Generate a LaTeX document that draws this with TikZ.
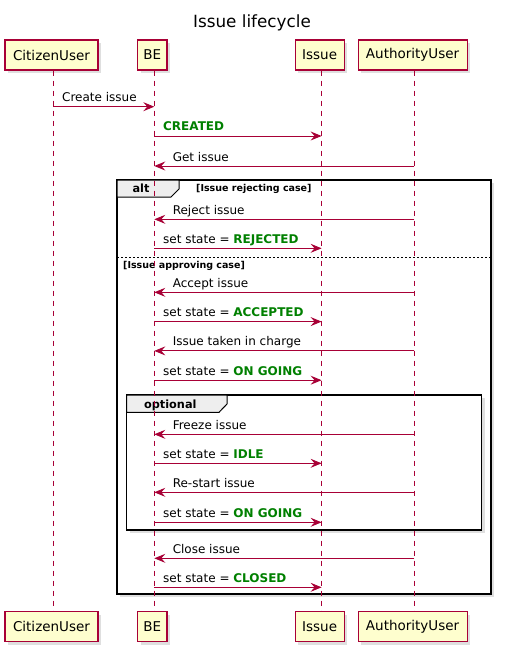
\documentclass[tikz,border=0pt]{standalone}
\usepackage{fontspec}
\setmainfont{DejaVu Sans}
\usetikzlibrary{arrows.meta,shadows,calc}
\definecolor{plred}{HTML}{A80036}
\definecolor{plfill}{HTML}{FEFECE}
\definecolor{plgreen}{HTML}{008000}
\definecolor{tabfill}{HTML}{EEEEEE}
\tikzset{
  actor/.style={draw=plred, fill=plfill, line width=1.2pt, minimum height=30pt, inner sep=0pt,
    font=\fontsize{13.5}{16}\selectfont,
    drop shadow={shadow xshift=3pt, shadow yshift=-3pt, opacity=0.25}},
  life/.style={draw=plred, line width=0.8pt, dash pattern=on 5pt off 5pt},
  msg/.style={draw=plred, line width=0.9pt, -{Stealth[length=11pt,width=9pt,inset=4pt]}},
  msglabel/.style={anchor=base west, inner sep=0pt, font=\fontsize{12}{14}\selectfont, text=black},
  frame/.style={draw=black, line width=1.5pt, fill=white,
    drop shadow={shadow xshift=3pt, shadow yshift=-3pt, opacity=0.25}},
  tab/.style={draw=black, line width=1pt, fill=tabfill},
  tablabel/.style={inner sep=0pt, anchor=base, font=\fontsize{11.3}{13}\selectfont\bfseries},
  guard/.style={inner sep=0pt, anchor=base west, font=\fontsize{9.5}{11}\selectfont\bfseries},
  titlestyle/.style={inner sep=0pt, font=\fontsize{16.8}{20}\selectfont}
}
\newcommand\state[1]{\textbf{\textcolor{plgreen}{#1}}}
% right-going message: y, from, to, label
\newcommand\msgR[4]{\draw[msg] (l#2 |- 0,#1) -- (l#3 |- 0,#1)
  node[msglabel, pos=0, xshift=8.4pt, yshift=5pt] {#4};}
% left-going message: y, from, to, label
\newcommand\msgL[4]{\draw[msg] (l#2 |- 0,#1) -- (l#3 |- 0,#1)
  node[msglabel, pos=1, xshift=18pt, yshift=5pt] {#4};}
\begin{document}
\begin{tikzpicture}[x=1pt, y=-1pt]
\useasboundingbox (0,0) rectangle (504,655);
\node[titlestyle] (title) at (252,23) {Issue lifecycle};
% participants
\node[actor, minimum width=93pt] (cutop) at (51.5,55) {CitizenUser};
\node[actor, minimum width=29.4pt] (betop) at (152.3,55) {BE};
\node[actor, minimum width=49pt] (istop) at (319.6,55) {Issue};
\node[actor, minimum width=109pt] (autop) at (412.6,55) {AuthorityUser};
\node[actor, minimum width=93pt] (cubot) at (51.5,626.5) {CitizenUser};
\node[actor, minimum width=29.4pt] (bebot) at (152.3,626.5) {BE};
\node[actor, minimum width=49pt] (isbot) at (319.6,626.5) {Issue};
\node[actor, minimum width=109pt] (aubot) at (412.6,626.5) {AuthorityUser};
\coordinate (lcu) at ($(cutop.south)+(1.8,0)$);
\coordinate (lbe) at ($(betop.south)+(2,0)$);
\coordinate (lis) at ($(istop.south)+(2,0)$);
\coordinate (lau) at ($(autop.south)+(1.7,0)$);
% frames
\draw[frame] (117,180) rectangle (491,594);
\draw[tab] (117,180) -- (179,180) -- (179,189) -- (171,197) -- (117,197) -- cycle;
\node[tablabel] (altlbl) at (141,193) {alt};
\node[guard] (g1) at (196,191.5) {[Issue rejecting case]};
\draw[line width=0.6pt, dash pattern=on 2pt off 2pt] (117,257.3) -- (491,257.3);
\node[guard] (g2) at (123,268) {[Issue approving case]};
\draw[frame] (126.7,395) rectangle (481.7,530);
\draw[tab] (126.7,395) -- (227,395) -- (227,404) -- (219,412.3) -- (126.7,412.3) -- cycle;
\node[tablabel] (optlbl) at (170.3,408.3) {optional};
% lifelines
\draw[life] (lcu) -- (lcu |- cubot.north);
\draw[life] (lbe) -- (lbe |- bebot.north);
\draw[life] (lis) -- (lis |- isbot.north);
\draw[life] (lau) -- (lau |- aubot.north);
% messages
\msgR{106.7}{cu}{be}{Create issue}
\msgR{136}{be}{is}{\state{CREATED}}
\msgL{166}{au}{be}{Get issue}
\msgL{219.3}{au}{be}{Reject issue}
\msgR{248.3}{be}{is}{set state = \state{REJECTED}}
\msgL{292.3}{au}{be}{Accept issue}
\msgR{321.6}{be}{is}{set state = \state{ACCEPTED}}
\msgL{350.9}{au}{be}{Issue taken in charge}
\msgR{380.2}{be}{is}{set state = \state{ON GOING}}
\msgL{434.3}{au}{be}{Freeze issue}
\msgR{463.3}{be}{is}{set state = \state{IDLE}}
\msgL{492.3}{au}{be}{Re-start issue}
\msgR{522.3}{be}{is}{set state = \state{ON GOING}}
\msgL{558.3}{au}{be}{Close issue}
\msgR{587.3}{be}{is}{set state = \state{CLOSED}}
\end{tikzpicture}
\end{document}
